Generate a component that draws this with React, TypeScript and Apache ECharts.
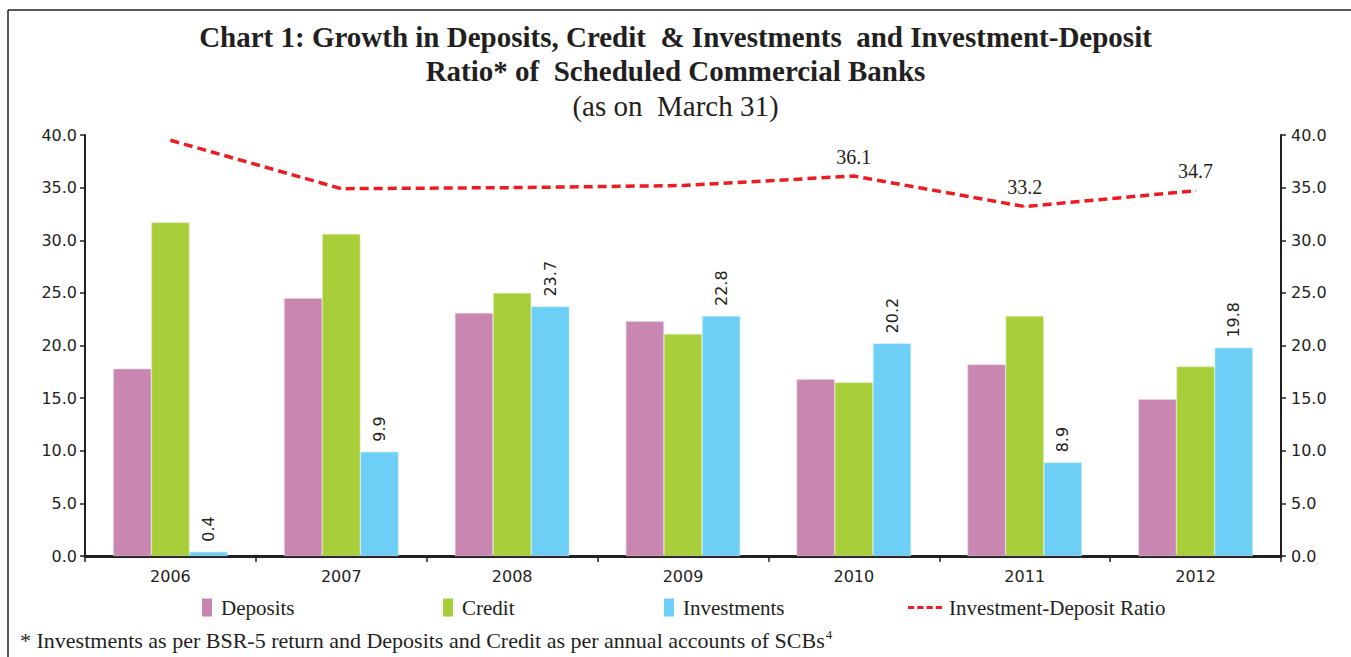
import React, { useEffect, useRef } from "react";
import * as echarts from "echarts";

const years = ["2006", "2007", "2008", "2009", "2010", "2011", "2012"];
const deposits = [17.8, 24.5, 23.1, 22.3, 16.8, 18.2, 14.9];
const credit = [31.7, 30.6, 25.0, 21.1, 16.5, 22.8, 18.0];
const investments = [0.4, 9.9, 23.7, 22.8, 20.2, 8.9, 19.8];
const idRatio = [39.5, 34.9, 35.0, 35.2, 36.1, 33.2, 34.7];
const idRatioLabelled = [false, false, false, false, true, true, true];

const titleLines = [
  "Chart 1: Growth in Deposits, Credit  & Investments  and Investment-Deposit",
  "Ratio* of  Scheduled Commercial Banks",
];
const subTitle = "(as on  March 31)";
const footnote = "* Investments as per BSR-5 return and Deposits and Credit as per annual accounts of SCBs";

const SERIF = "'Liberation Serif', 'DejaVu Serif', serif";
const SANS = "'DejaVu Sans', sans-serif";
const INK = "#231f20";

export default function App() {
  const ref = useRef<HTMLDivElement>(null);
  useEffect(() => {
    document.body.style.margin = "0";
    const chart = echarts.init(ref.current!, null, { renderer: "svg" });
    const axisCommon = {
      type: "value",
      min: 0,
      max: 40,
      interval: 5,
      splitLine: { show: false },
      axisLine: { show: true, lineStyle: { color: INK, width: 2 } },
      axisTick: { show: true, length: 5, lineStyle: { color: INK, width: 1.5 } },
      axisLabel: {
        formatter: (v: number) => v.toFixed(1),
        fontFamily: SANS,
        fontSize: 16,
        color: INK,
      },
    };
    const barLegend = (name: string, left: number) => ({
      data: [name],
      left,
      top: 592,
      icon: "rect",
      itemWidth: 10,
      itemHeight: 18,
      selectedMode: false,
      itemStyle: { borderWidth: 0 },
      textStyle: { fontFamily: SERIF, fontSize: 21, color: INK, padding: [0, 0, 0, 4] },
    });
    chart.setOption({
      animation: false,
      backgroundColor: "#ffffff",
      title: [
        {
          text: titleLines.join("\n"),
          left: "center",
          top: 15,
          textStyle: {
            fontFamily: SERIF,
            fontWeight: "bold",
            fontSize: 29,
            lineHeight: 34,
            color: INK,
          },
        },
        {
          text: subTitle,
          left: "center",
          top: 86,
          textStyle: { fontFamily: SERIF, fontWeight: "normal", fontSize: 29, color: INK },
        },
      ],
      legend: [
        barLegend("Deposits", 197),
        barLegend("Credit", 438),
        barLegend("Investments", 659),
        {
          data: [
            {
              name: "Investment-Deposit Ratio",
              icon: "path://M0,0h6v3h-6z M9,0h6v3h-6z M18,0h6v3h-6z M27,0h6v3h-6z",
            },
          ],
          left: 903,
          top: 592,
          itemWidth: 34,
          itemHeight: 4,
          selectedMode: false,
          textStyle: { fontFamily: SERIF, fontSize: 21, color: INK, padding: [0, 0, 0, 2] },
        },
      ],
      grid: { left: 85, right: 70, top: 135, bottom: 101 },
      xAxis: {
        type: "category",
        data: years,
        axisLine: { lineStyle: { color: INK, width: 3 } },
        axisTick: { show: true, length: 6, alignWithLabel: false, lineStyle: { color: INK, width: 1.5 } },
        axisLabel: { fontFamily: SANS, fontSize: 16, color: INK, margin: 12 },
      },
      yAxis: [
        { ...axisCommon, position: "left", axisLabel: { ...axisCommon.axisLabel, margin: 8 } },
        { ...axisCommon, position: "right", axisLabel: { ...axisCommon.axisLabel, margin: 10 } },
      ],
      series: [
        {
          name: "Deposits",
          type: "bar",
          data: deposits,
          barCategoryGap: "33%",
          barGap: "0%",
          itemStyle: { color: "#c886b0", borderColor: "#ead3e2", borderWidth: 0.6 },
        },
        {
          name: "Credit",
          type: "bar",
          data: credit,
          barCategoryGap: "33%",
          barGap: "0%",
          itemStyle: { color: "#a8cf3a", borderColor: "#dcebb0", borderWidth: 0.6 },
        },
        {
          name: "Investments",
          type: "bar",
          data: investments,
          barCategoryGap: "33%",
          barGap: "0%",
          itemStyle: { color: "#6dcff6", borderColor: "#c6ecfb", borderWidth: 0.6 },
          label: {
            show: true,
            position: "top",
            rotate: 90,
            align: "left",
            verticalAlign: "middle",
            distance: 10,
            fontFamily: SANS,
            fontSize: 16,
            color: INK,
            formatter: (p: any) => p.value.toFixed(1),
          },
        },
        {
          name: "Investment-Deposit Ratio",
          type: "line",
          yAxisIndex: 1,
          data: idRatio.map((v, i) => ({
            value: v,
            label: { show: idRatioLabelled[i] },
          })),
          symbol: "circle",
          symbolSize: 1,
          itemStyle: { color: "#ed1c24" },
          lineStyle: { color: "#ed1c24", width: 3.5, type: [9, 5] },
          label: {
            position: "top",
            distance: 9,
            fontFamily: SERIF,
            fontSize: 20,
            color: INK,
            formatter: (p: any) => p.value.toFixed(1),
          },
        },
      ],
      graphic: [
        { type: "line", shape: { x1: 8, y1: 10, x2: 1351, y2: 10 }, style: { stroke: INK, lineWidth: 1.5 } },
        { type: "line", shape: { x1: 8, y1: 10, x2: 8, y2: 657 }, style: { stroke: INK, lineWidth: 1.5 } },
        {
          type: "text",
          left: 20,
          top: 628,
          style: {
            text: "{t|" + footnote + "}{s|4}",
            rich: {
              t: { fontFamily: SERIF, fontSize: 22, fill: INK, verticalAlign: "bottom" },
              s: { fontFamily: SERIF, fontSize: 13, fill: INK, verticalAlign: "top", padding: [0, 0, 10, 1] },
            },
          },
        },
      ],
    });
    return () => chart.dispose();
  }, []);
  return <div ref={ref} style={{ width: 1351, height: 657 }} />;
}
